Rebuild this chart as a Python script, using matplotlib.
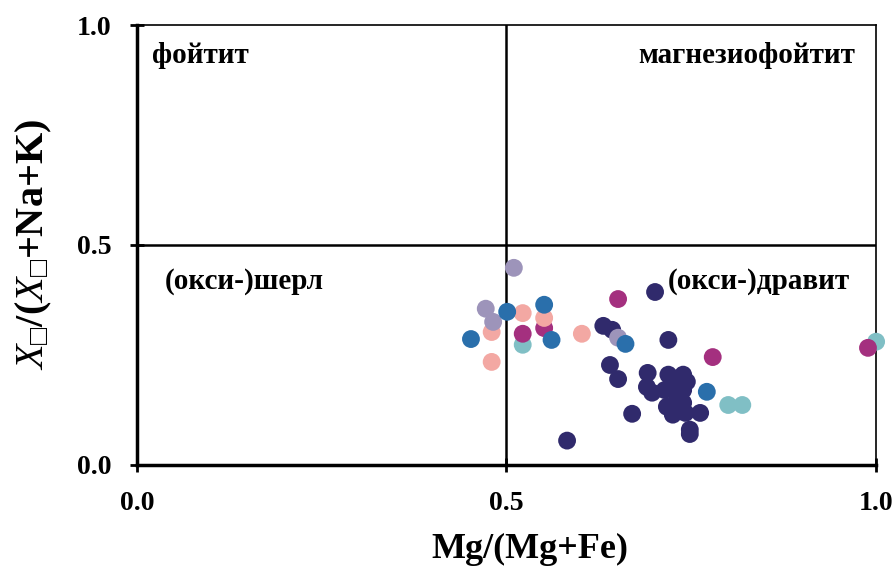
import matplotlib
matplotlib.use("Agg")
import matplotlib.pyplot as plt

# === Fonts ===
plt.rcParams["font.family"] = ["Liberation Serif", "DejaVu Serif"]
plt.rcParams["mathtext.fontset"] = "custom"
plt.rcParams["mathtext.rm"] = "Liberation Serif"
plt.rcParams["mathtext.it"] = "Liberation Serif:italic"
plt.rcParams["mathtext.bf"] = "Liberation Serif:bold"

# === Data: Mg/(Mg+Fe) and X-vacancy/(X-vacancy+Na+K) ===
teal_x = [0.522, 0.800, 0.819, 1.000]
teal_y = [0.273, 0.136, 0.136, 0.280]

navy_x = [0.701, 0.631, 0.643, 0.640, 0.651, 0.670, 0.582, 0.719, 0.691, 0.690,
          0.697, 0.719, 0.739, 0.714, 0.739, 0.717, 0.739, 0.725, 0.742, 0.762,
          0.748, 0.731, 0.724, 0.744, 0.748, 0.735, 0.730]
navy_y = [0.393, 0.316, 0.307, 0.227, 0.195, 0.116, 0.055, 0.284, 0.209, 0.177,
          0.164, 0.205, 0.205, 0.170, 0.170, 0.132, 0.141, 0.114, 0.118, 0.118,
          0.080, 0.155, 0.189, 0.189, 0.070, 0.180, 0.130]

magenta_x = [0.551, 0.522, 0.651, 0.779, 0.989]
magenta_y = [0.311, 0.298, 0.377, 0.245, 0.266]

pink_x = [0.522, 0.480, 0.480, 0.551, 0.602]
pink_y = [0.345, 0.302, 0.234, 0.334, 0.298]

lav_x = [0.510, 0.472, 0.482, 0.651]
lav_y = [0.448, 0.355, 0.325, 0.289]

blue_x = [0.501, 0.452, 0.551, 0.561, 0.661, 0.771]
blue_y = [0.348, 0.286, 0.364, 0.284, 0.275, 0.166]

series = [
    (teal_x, teal_y, "#80bfc5"),
    (navy_x, navy_y, "#302a6c"),
    (magenta_x, magenta_y, "#a4307f"),
    (pink_x, pink_y, "#f3a8a3"),
    (lav_x, lav_y, "#9d94ba"),
    (blue_x, blue_y, "#2a6fab"),
]

# === Plot ===
fig = plt.figure(figsize=(8.94, 5.71), dpi=100)
ax = fig.add_axes([0.153, 0.186, 0.827, 0.770])

for xs, ys, c in series:
    ax.scatter(xs, ys, s=165, color=c, edgecolors="none", zorder=3, clip_on=False)

ax.axvline(0.5, color="black", lw=1.8, zorder=2)
ax.axhline(0.5, color="black", lw=1.8, zorder=2)

ax.set_xlim(0, 1)
ax.set_ylim(0, 1)
ax.set_xticks([0, 0.5, 1.0])
ax.set_yticks([0, 0.5, 1.0])
ax.set_xticklabels(["0.0", "0.5", "1.0"], fontsize=20, fontweight="bold")
ax.set_yticklabels(["0.0", "0.5", "1.0"], fontsize=20, fontweight="bold")
ax.tick_params(axis="both", direction="inout", length=10, width=2)
ax.tick_params(axis="x", pad=14)
ax.tick_params(axis="y", pad=13)

for side in ["left", "bottom"]:
    ax.spines[side].set_linewidth(2.5)
for side in ["top", "right"]:
    ax.spines[side].set_linewidth(1.2)

ax.set_xlabel("Mg/(Mg+Fe)", fontsize=26, fontweight="bold")
ax.xaxis.set_label_coords(0.532, -0.155)
ax.set_ylabel(r"$X_{□}$/($X_{□}$+Na+K)", fontsize=29, fontweight="bold")
ax.yaxis.set_label_coords(-0.112, 0.5)

# field names
lbl = dict(fontsize=21, fontweight="bold", va="center")
ax.text(0.02, 0.932, "фойтит", ha="left", **lbl)
ax.text(0.972, 0.932, "магнезиофойтит", ha="right", **lbl)
ax.text(0.038, 0.418, "(окси-)шерл", ha="left", **lbl)
ax.text(0.965, 0.418, "(окси-)дравит", ha="right", **lbl)

plt.savefig("out.png", dpi=100)
plt.close()
